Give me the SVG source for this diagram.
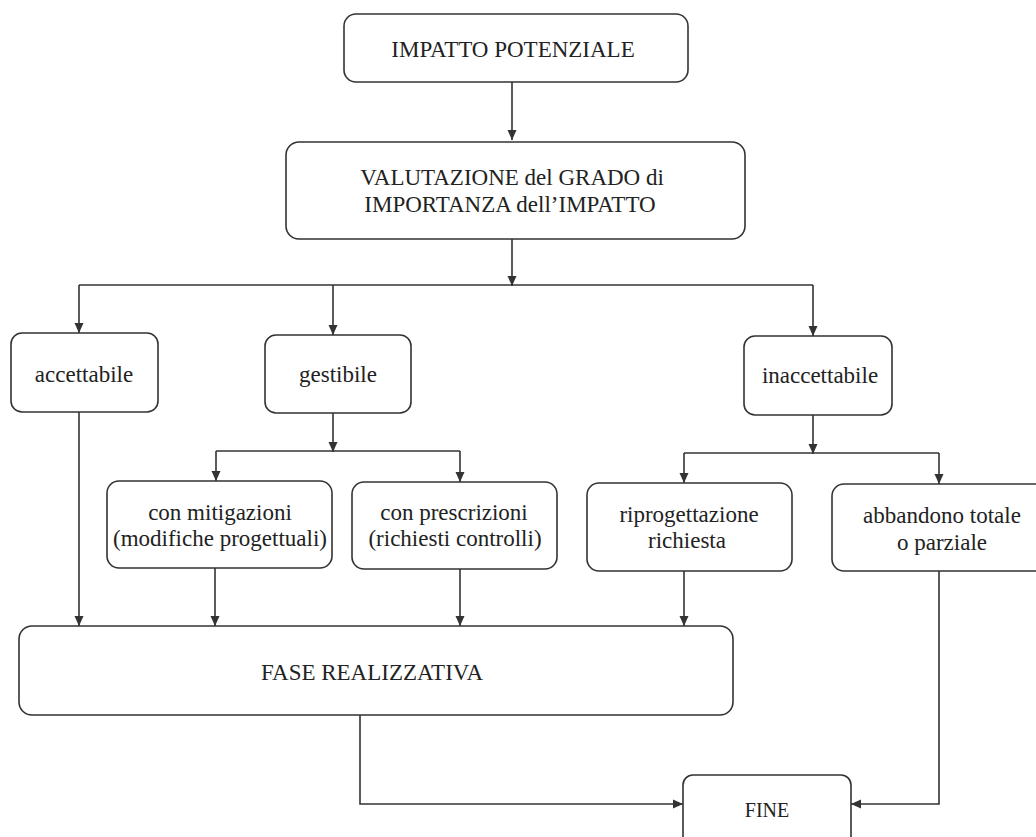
<svg xmlns="http://www.w3.org/2000/svg" width="1036" height="837" viewBox="0 0 1036 837">
<defs>
<marker id="arr" markerUnits="userSpaceOnUse" markerWidth="10" markerHeight="10" refX="10" refY="5" orient="auto">
<path d="M0,0.5 L10,5 L0,9.5 z" fill="#333"/>
</marker>
<style>
.box{fill:#fff;stroke:#333;stroke-width:1.6}
.lbl{font-family:"Liberation Serif","Times New Roman",serif;font-size:23px;fill:#222;text-anchor:middle}
.sm{font-size:20px}
.con{fill:none;stroke:#333;stroke-width:1.6}
.ar{marker-end:url(#arr)}
</style>
</defs>
<rect width="1036" height="837" fill="#fff"/>
<g id="connectors">
<path class="con ar" d="M512,82 V140"/>
<path class="con ar" d="M512,239 V286"/>
<path class="con" d="M79,285 H813"/>
<path class="con ar" d="M79,285 V333"/>
<path class="con ar" d="M333,285 V335"/>
<path class="con ar" d="M813,285 V336"/>
<path class="con ar" d="M333,413 V452"/>
<path class="con" d="M216,451 H460"/>
<path class="con ar" d="M216,451 V481"/>
<path class="con ar" d="M460,451 V482"/>
<path class="con ar" d="M813,415 V454"/>
<path class="con" d="M684,453 H939"/>
<path class="con ar" d="M684,453 V483"/>
<path class="con ar" d="M939,453 V484"/>
<path class="con ar" d="M79,412 V626"/>
<path class="con ar" d="M215,568 V626"/>
<path class="con ar" d="M460,569 V626"/>
<path class="con ar" d="M684,571 V626"/>
<path class="con ar" d="M360,715 V804 H683"/>
<path class="con ar" d="M939,571 V804 H851"/>
</g>
<g id="impatto-potenziale">
<rect class="box" x="344" y="14" width="344" height="68" rx="12"/>
<text class="lbl" x="513" y="57">IMPATTO POTENZIALE</text>
</g>
<g id="valutazione">
<rect class="box" x="286" y="142" width="459" height="97" rx="13"/>
<text class="lbl" x="512" y="185">VALUTAZIONE del GRADO di</text>
<text class="lbl" x="510" y="211.5">IMPORTANZA dell’IMPATTO</text>
</g>
<g id="accettabile">
<rect class="box" x="11" y="333" width="147" height="79" rx="11"/>
<text class="lbl" x="84" y="382">accettabile</text>
</g>
<g id="gestibile">
<rect class="box" x="265" y="335" width="146" height="78" rx="11"/>
<text class="lbl" x="338" y="382">gestibile</text>
</g>
<g id="inaccettabile">
<rect class="box" x="744" y="336" width="148" height="79" rx="11"/>
<text class="lbl" x="820" y="383">inaccettabile</text>
</g>
<g id="con-mitigazioni">
<rect class="box" x="107" y="481" width="225" height="87" rx="12"/>
<text class="lbl" x="220" y="520">con mitigazioni</text>
<text class="lbl" x="220" y="546">(modifiche progettuali)</text>
</g>
<g id="con-prescrizioni">
<rect class="box" x="352" y="482" width="205" height="87" rx="12"/>
<text class="lbl" x="454" y="520">con prescrizioni</text>
<text class="lbl" x="455" y="546">(richiesti controlli)</text>
</g>
<g id="riprogettazione">
<rect class="box" x="587" y="483" width="205" height="88" rx="12"/>
<text class="lbl" x="689" y="521.5">riprogettazione</text>
<text class="lbl" x="687" y="548">richiesta</text>
</g>
<g id="abbandono">
<rect class="box" x="832" y="484" width="220" height="87" rx="12"/>
<text class="lbl" x="942" y="523">abbandono totale</text>
<text class="lbl" x="942" y="550">o parziale</text>
</g>
<g id="fase-realizzativa">
<rect class="box" x="19" y="626" width="714" height="89" rx="13"/>
<text class="lbl" x="372" y="680">FASE REALIZZATIVA</text>
</g>
<g id="fine">
<rect class="box" x="683" y="775" width="168" height="80" rx="10"/>
<text class="lbl sm" x="767" y="817">FINE</text>
</g>
</svg>
